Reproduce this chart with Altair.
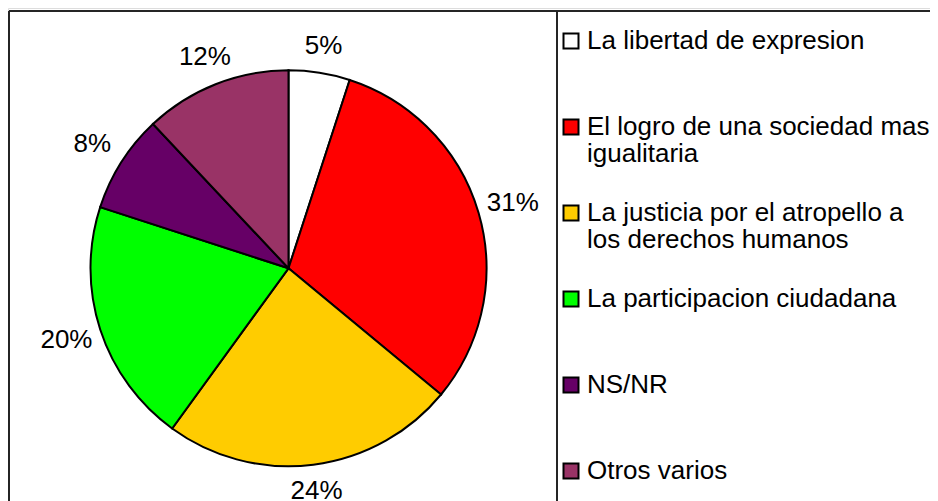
import altair as alt
import pandas as pd

categories = [
    "La libertad de expresion",
    "El logro de una sociedad mas\nigualitaria",
    "La justicia por el atropello a\nlos derechos humanos",
    "La participacion ciudadana",
    "NS/NR",
    "Otros varios",
]
values = [5, 31, 24, 20, 8, 12]
labels = ["5%", "31%", "24%", "20%", "8%", "12%"]
colors = ["#FFFFFF", "#FF0000", "#FFCC00", "#00FF00", "#660066", "#993366"]

df = pd.DataFrame({
    "idx": list(range(len(categories))),
    "cat": categories,
    "value": values,
    "label": labels,
})

FONT = "Liberation Sans"
CX, CY = 280.5, 260.3

color_scale = alt.Scale(domain=categories, range=colors)
base = alt.Chart(df)

pie = base.mark_arc(outerRadius=198, stroke="black", strokeWidth=2).encode(
    theta=alt.Theta("value:Q", stack=True),
    order=alt.Order("idx:Q"),
    color=alt.Color("cat:N", scale=color_scale, legend=None),
    x=alt.value(CX),
    y=alt.value(CY),
)

# label at the middle angle of its slice; distance grows with the label's
# horizontal extent (outside-end placement)
pie_labels = base.transform_joinaggregate(
    total="sum(value)"
).transform_window(
    cum="sum(value)", sort=[alt.SortField("idx", order="ascending")], frame=[None, 0]
).transform_calculate(
    mid="(datum.cum - datum.value / 2) / datum.total * 2 * PI",
    r="223 + 11 * abs(sin(datum.mid))",
).mark_text(
    font=FONT, fontSize=26, color="black", align="center", baseline="middle"
).encode(
    theta=alt.Theta("mid:Q", scale=None, stack=False),
    radius=alt.Radius("r:Q", scale=None),
    text="label:N",
    x=alt.value(CX),
    y=alt.value(CY),
)

ly = alt.Y("idx:O", scale=alt.Scale(type="point", range=[33, 463], padding=0), axis=None)

leg_sq = base.mark_square(size=225, stroke="black", strokeWidth=2, opacity=1).encode(
    x=alt.value(563),
    y=ly,
    fill=alt.Color("cat:N", scale=color_scale, legend=None),
)

leg_txt = base.mark_text(
    font=FONT, fontSize=26, align="left", baseline="middle", lineBreak="\n",
    lineHeight=27, color="black"
).encode(
    x=alt.value(579),
    y=ly,
    text="cat:N",
)

frame_top = alt.Chart(df).mark_rule(color="#222222", strokeWidth=1).encode(
    x=alt.value(1), x2=alt.value(922), y=alt.value(3)
)
frame_left = alt.Chart(df).mark_rule(color="#222222", strokeWidth=1).encode(
    x=alt.value(1), y=alt.value(3), y2=alt.value(493)
)
frame_div = alt.Chart(df).mark_rule(color="#222222", strokeWidth=1).encode(
    x=alt.value(549), y=alt.value(3), y2=alt.value(493)
)

chart = alt.layer(
    frame_top, frame_left, frame_div, pie, pie_labels, leg_sq, leg_txt
).properties(
    width=922, height=493,
    autosize=alt.AutoSizeParams(type="none"),
    padding=0,
).configure_view(stroke=None).configure(background="white")

chart.save("out.html", embed_options={"renderer": "svg", "actions": False})
